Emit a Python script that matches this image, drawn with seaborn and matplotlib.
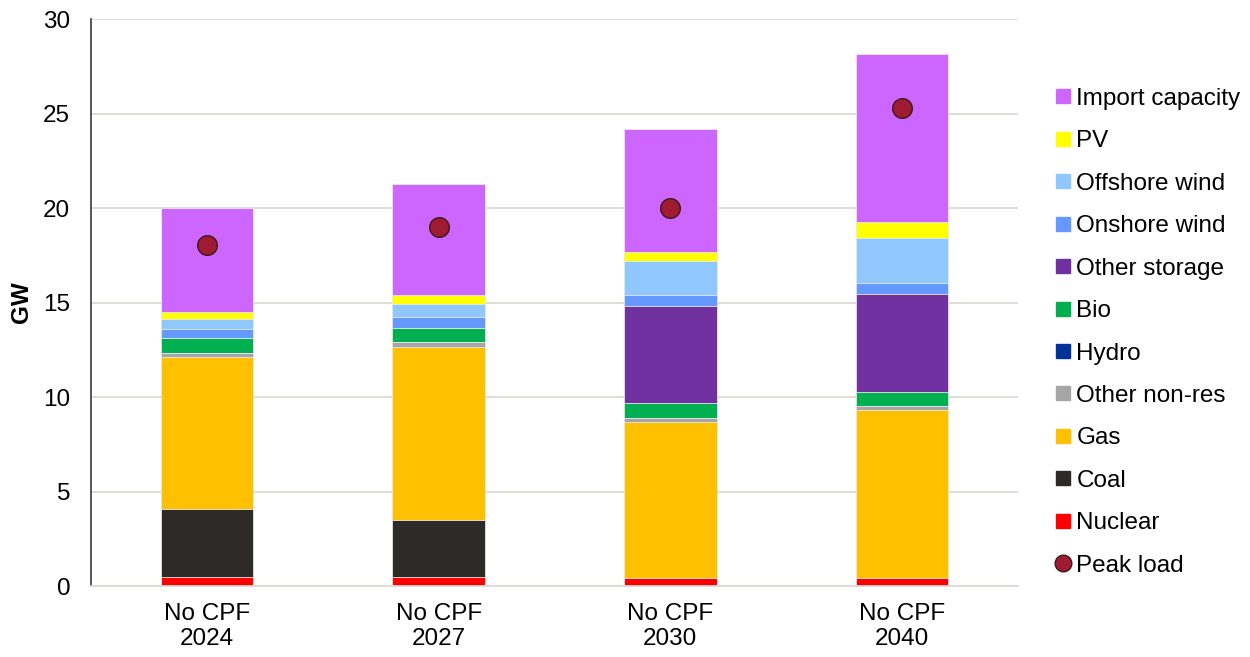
import numpy as np
import pandas as pd
import matplotlib
matplotlib.use('Agg')
import matplotlib.pyplot as plt
from matplotlib.lines import Line2D
import seaborn as sns

scenarios = ['No CPF\n2024', 'No CPF\n2027', 'No CPF\n2030', 'No CPF\n2040']

# stack order bottom -> top
tech = ['Nuclear', 'Coal', 'Gas', 'Other non-res', 'Hydro', 'Bio',
        'Other storage', 'Onshore wind', 'Offshore wind', 'PV', 'Import capacity']
nuclear = [0.46, 0.46, 0.44, 0.44]
coal = [3.60, 3.03, 0.0, 0.0]
gas = [8.06, 9.17, 8.22, 8.89]
other_nonres = [0.21, 0.23, 0.21, 0.19]
hydro = [0.02, 0.02, 0.02, 0.02]
bio = [0.77, 0.76, 0.78, 0.74]
other_storage = [0.0, 0.0, 5.14, 5.19]
onshore = [0.48, 0.58, 0.60, 0.58]
offshore = [0.53, 0.67, 1.77, 2.36]
pv = [0.38, 0.46, 0.51, 0.85]
imports = [5.49, 5.89, 6.49, 8.89]
peak_load = [18.05, 19.0, 20.0, 25.29]

colors = {
    'Import capacity': '#CC66FF',
    'PV': '#FFFF00',
    'Offshore wind': '#8FC7FF',
    'Onshore wind': '#6699FF',
    'Other storage': '#7030A0',
    'Bio': '#00B050',
    'Hydro': '#003399',
    'Other non-res': '#A6A6A6',
    'Gas': '#FFC000',
    'Coal': '#2E2A27',
    'Nuclear': '#FF0000',
}

series = [nuclear, coal, gas, other_nonres, hydro, bio, other_storage,
          onshore, offshore, pv, imports]
df = pd.DataFrame(dict(zip(tech, series)), index=scenarios)
cum = df.cumsum(axis=1)

plt.rcParams['font.family'] = ['Liberation Sans', 'DejaVu Sans']
fs = 17.5
plt.rcParams['font.size'] = fs

fig = plt.figure(figsize=(12.5, 6.57), dpi=100)
ax = fig.add_axes([0.0728, 0.108, 0.7416, 0.863])

# draw cumulative totals from top layer down so lower layers cover them
for t in tech[::-1]:
    d = pd.DataFrame({'scenario': scenarios, 'value': cum[t].values})
    sns.barplot(data=d, x='scenario', y='value', color=colors[t], width=0.4,
                saturation=1, edgecolor='#e8e8e8', linewidth=0.6, ax=ax, zorder=2)

pk = pd.DataFrame({'scenario': scenarios, 'peak': peak_load})
sns.scatterplot(data=pk, x='scenario', y='peak', s=200, color='#9E1B32',
                edgecolor='#3A1A1A', linewidth=1.0, ax=ax, zorder=5, legend=False)

ax.set_xlim(-0.5, 3.5)
ax.set_ylim(0, 30)
ax.set_yticks(range(0, 31, 5))
ax.grid(axis='y', color='#DDDAD6', linewidth=1.3, zorder=0)
ax.set_axisbelow(True)
for s in ['top', 'right']:
    ax.spines[s].set_visible(False)
ax.spines['left'].set_color('#3A3A3A')
ax.spines['left'].set_linewidth(1.2)
ax.spines['bottom'].set_color('#DDDAD6')
ax.spines['bottom'].set_linewidth(1.3)
ax.tick_params(axis='both', length=0, labelsize=fs, colors='black')
ax.tick_params(axis='y', pad=15)
ax.tick_params(axis='x', pad=12)
for lab in ax.get_xticklabels():
    lab.set_linespacing(1.2)
ax.set_xlabel('')
ax.set_ylabel('GW', fontweight='bold', fontsize=fs, labelpad=7)

handles = []
for t in tech[::-1]:
    handles.append(Line2D([], [], marker='s', linestyle='none', markersize=9.5,
                          markerfacecolor=colors[t], markeredgecolor=colors[t],
                          label=t))
handles.append(Line2D([], [], marker='o', linestyle='none', markersize=12,
                      markerfacecolor='#9E1B32', markeredgecolor='#3A1A1A',
                      label='Peak load'))
fig.legend(handles=handles, loc='upper left', bbox_to_anchor=(0.835, 0.881),
           frameon=False, fontsize=fs, labelspacing=0.84, handletextpad=0.14,
           handlelength=0.8, borderaxespad=0)

fig.savefig('out.png', dpi=100)
